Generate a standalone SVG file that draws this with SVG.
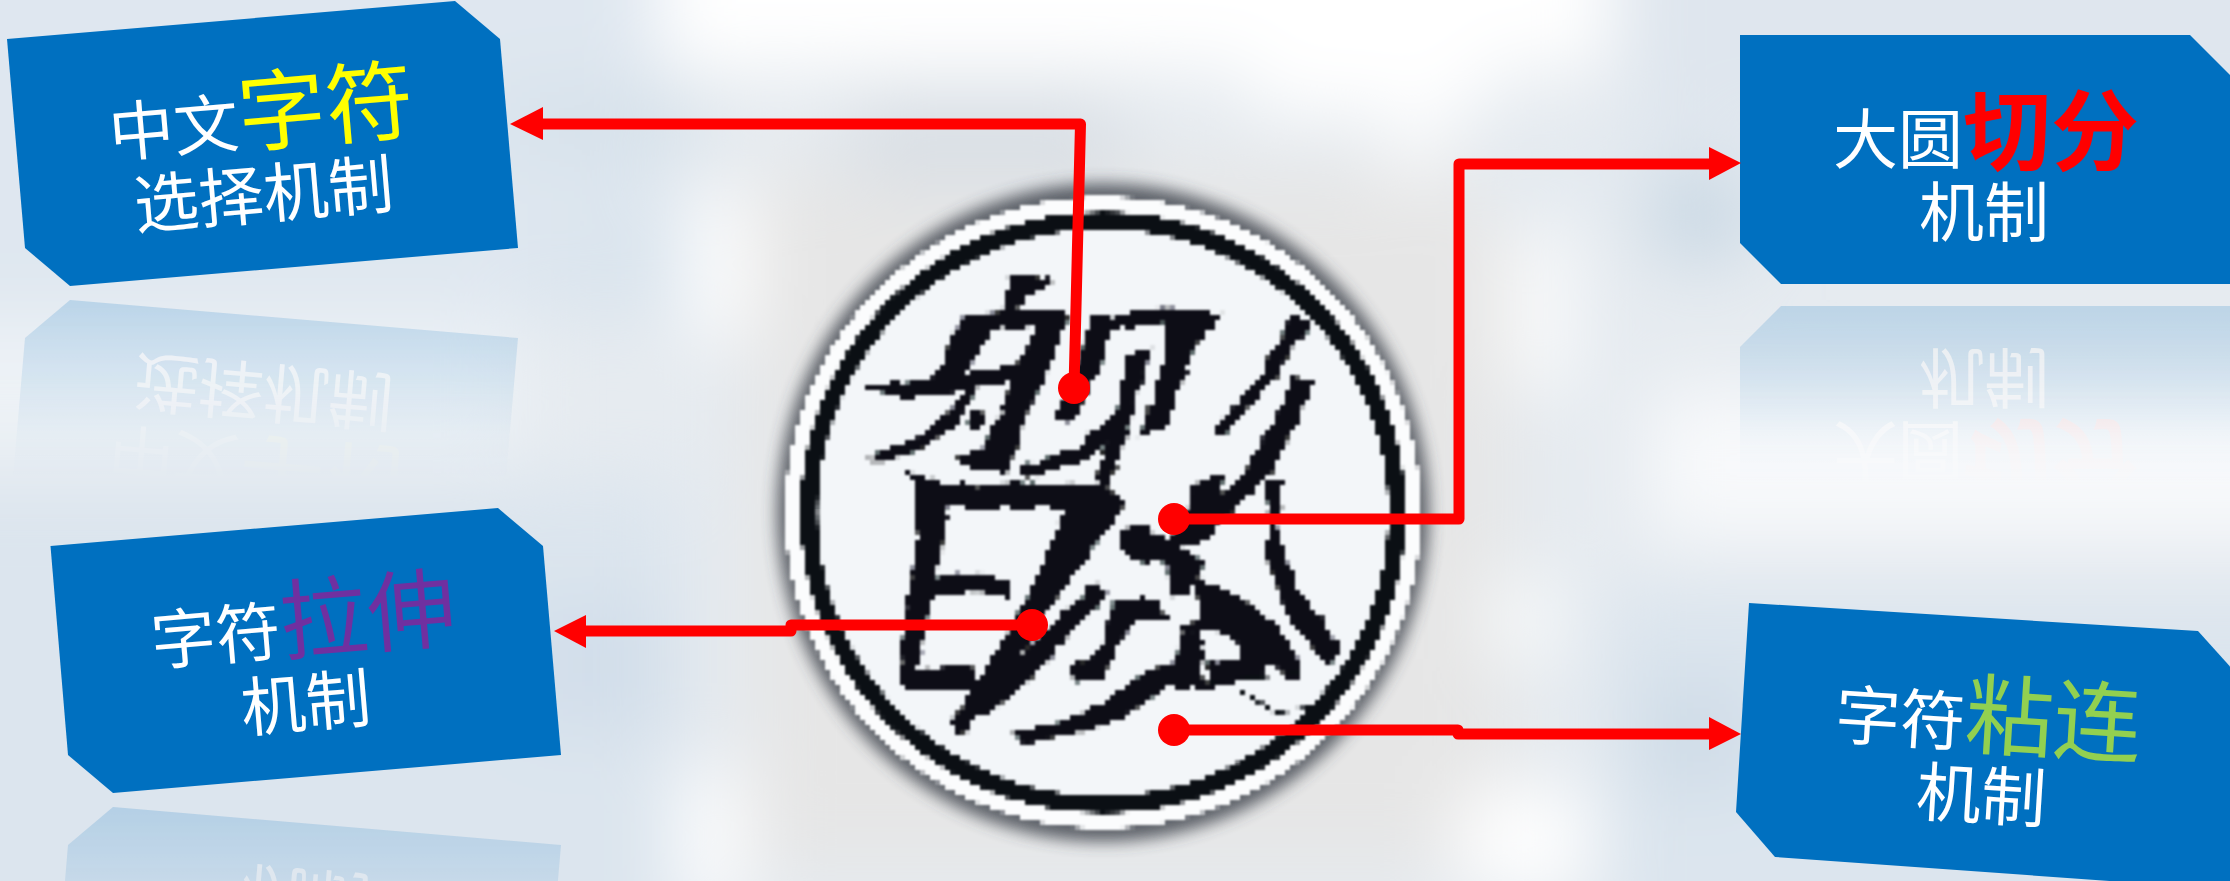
<svg xmlns="http://www.w3.org/2000/svg" xmlns:xlink="http://www.w3.org/1999/xlink" width="2230" height="881" viewBox="0 0 2230 881">
<style>
.box{fill:#0070C0}
.t{font-family:"Noto Sans CJK SC","Noto Sans",sans-serif;fill:#fff;font-size:65px;font-weight:400}
.big{font-size:88px}
.conn{fill:none;stroke:#f00;stroke-width:11;stroke-linejoin:round;stroke-linecap:round}
.dot,.head{fill:#f00;stroke:none}
.ink{fill:#0b0f14;stroke:#0b0f14;stroke-width:9;stroke-linejoin:round}
.thin{fill:none;stroke:#0b0f14;stroke-linecap:round;stroke-linejoin:round}
</style>
<defs>
<filter id="b60" filterUnits="userSpaceOnUse" x="-200" y="-200" width="2630" height="1281"><feGaussianBlur stdDeviation="36"/></filter>
<filter id="b12" x="-20%" y="-20%" width="140%" height="140%"><feGaussianBlur stdDeviation="8"/></filter>
<filter id="rough" x="-5%" y="-5%" width="110%" height="110%"><feTurbulence type="fractalNoise" baseFrequency=".035" numOctaves="2" seed="4"/><feDisplacementMap in="SourceGraphic" scale="22" xChannelSelector="R" yChannelSelector="G"/></filter>
<filter id="pix" filterUnits="userSpaceOnUse" x="775" y="185" width="660" height="660" color-interpolation-filters="sRGB">
<feFlood x="777" y="187" width="1" height="1" flood-color="#000"/>
<feComposite x="775" y="185" width="5" height="5"/>
<feTile x="775" y="185" width="660" height="660" result="a"/>
<feComposite in="SourceGraphic" in2="a" operator="in"/>
<feMorphology operator="dilate" radius="2"/>
<feGaussianBlur stdDeviation="1"/>
</filter>
<linearGradient id="g1" gradientUnits="userSpaceOnUse" x1="0" y1="300" x2="0" y2="480"><stop offset="0" stop-color="#fff" stop-opacity=".18"/><stop offset=".45" stop-color="#fff" stop-opacity=".09"/><stop offset=".75" stop-color="#fff" stop-opacity=".02"/><stop offset="1" stop-color="#fff" stop-opacity="0"/></linearGradient>
<linearGradient id="g2" gradientUnits="userSpaceOnUse" x1="0" y1="807" x2="0" y2="987"><stop offset="0" stop-color="#fff" stop-opacity=".18"/><stop offset=".45" stop-color="#fff" stop-opacity=".09"/><stop offset=".75" stop-color="#fff" stop-opacity=".02"/><stop offset="1" stop-color="#fff" stop-opacity="0"/></linearGradient>
<linearGradient id="g3" gradientUnits="userSpaceOnUse" x1="0" y1="305" x2="0" y2="485"><stop offset="0" stop-color="#fff" stop-opacity=".18"/><stop offset=".45" stop-color="#fff" stop-opacity=".09"/><stop offset=".75" stop-color="#fff" stop-opacity=".02"/><stop offset="1" stop-color="#fff" stop-opacity="0"/></linearGradient>
<mask id="m1" maskUnits="userSpaceOnUse" x="0" y="0" width="2230" height="881"><rect y="300" width="700" height="180" fill="url(#g1)"/></mask>
<mask id="m2" maskUnits="userSpaceOnUse" x="0" y="0" width="2230" height="881"><rect y="800" width="700" height="81" fill="url(#g2)"/></mask>
<mask id="m3" maskUnits="userSpaceOnUse" x="0" y="0" width="2230" height="881"><rect x="1600" y="300" width="630" height="185" fill="url(#g3)"/></mask>
</defs>

<g id="background">
<rect width="2230" height="881" fill="#e6ebf0"/>
<g filter="url(#b60)">
<rect x="-100" y="-100" width="760" height="420" fill="#dfe7f0"/>
<rect x="-100" y="320" width="620" height="140" fill="#edf2f6"/>
<rect x="-100" y="480" width="780" height="500" fill="#dce5ee"/>
<rect x="500" y="90" width="200" height="70" fill="#d6e1ea"/>
<rect x="540" y="200" width="170" height="120" fill="#dbe5ee"/>
<rect x="520" y="600" width="150" height="130" fill="#d2deea"/>
<rect x="660" y="-100" width="950" height="170" fill="#ffffff"/>
<rect x="1250" y="-60" width="240" height="175" fill="#ffffff"/>
<rect x="750" y="170" width="760" height="700" fill="#e6e6e6"/>
<rect x="850" y="95" width="270" height="90" fill="#d9dfe5"/>
<rect x="1480" y="140" width="260" height="80" fill="#e4eaf0"/>
<rect x="690" y="190" width="60" height="150" fill="#ffffff"/>
<rect x="680" y="770" width="60" height="140" fill="#ffffff"/>
<rect x="1395" y="90" width="40" height="90" fill="#ffffff"/>
<rect x="1510" y="230" width="60" height="160" fill="#fbfcfd"/>
<rect x="1490" y="580" width="70" height="80" fill="#f8fafb"/>
<rect x="1460" y="790" width="130" height="100" fill="#ffffff"/>
<rect x="1620" y="-100" width="720" height="240" fill="#dfe6ee"/>
<rect x="1650" y="170" width="100" height="90" fill="#c9d8e4"/>
<rect x="1650" y="390" width="700" height="150" fill="#f8f9fb"/>
<rect x="1600" y="590" width="740" height="400" fill="#dce5ee"/>
<rect x="1640" y="680" width="110" height="110" fill="#cfdce7"/>
</g>
</g>

<g mask="url(#m1)"><use id="reflection-1" href="#node-1" transform="matrix(1 0 0 -1 0 586)"/></g>
<g mask="url(#m2)"><use id="reflection-2" href="#node-2" transform="matrix(1 0 0 -1 0 1600)"/></g>
<g mask="url(#m3)"><use id="reflection-3" href="#node-3" transform="matrix(1 0 0 -1 0 590)"/></g>

<g id="node-1">
<polygon class="box" points="7,39 455,1 500,39 518,248 70,286 25,248"/>
<text class="t" transform="rotate(-4.85 111 157)" x="111" y="157">中文<tspan class="big" fill="#FFFF00">字符</tspan></text>
<text class="t" transform="rotate(-4.85 136 229)" x="136" y="229">选择机制</text>
</g>
<g id="node-2">
<polygon class="box" points="50.5,546 498,508 543,546 561,755 113,793 68,755"/>
<text class="t" transform="rotate(-4.85 153 665)" x="153" y="665">字符<tspan class="big" fill="#7030A0">拉伸</tspan></text>
<text class="t" transform="rotate(-4.85 243 732)" x="243" y="732">机制</text>
</g>
<g id="node-3">
<polygon class="box" points="1740,35 2190,35 2235,80 2235,284 1781,284 1740,243"/>
<text class="t" x="1833" y="163">大圆<tspan class="big" font-weight="700" fill="#FF0000">切分</tspan></text>
<text class="t" x="1919" y="236">机制</text>
</g>
<g id="node-4">
<polygon class="box" points="1749,603 2198,631 2235,672 2235,890 1775,857 1736,812"/>
<text class="t" transform="rotate(3.57 1834 738)" x="1834" y="738">字符<tspan class="big" fill="#92D050">粘连</tspan></text>
<text class="t" transform="rotate(3.57 1915 815)" x="1915" y="815">机制</text>
</g>

<g id="seal">
<ellipse cx="1103" cy="512.5" rx="326" ry="329" fill="#3a4148" filter="url(#b12)" opacity=".8"/>
<g filter="url(#pix)">
<ellipse cx="1103" cy="512.5" rx="318" ry="316" fill="#fbfcfd"/>
<ellipse cx="1103" cy="512.5" rx="294" ry="292" fill="#f3f6f9" stroke="#0b0f14" stroke-width="17"/>
<g transform="translate(740 170) scale(.4464 .4337)">
<g class="ink" filter="url(#rough)">
<polygon points="610,245 700,255 640,290 600,345 590,320"/>
<polygon points="500,340 720,325 730,350 560,365"/>
<polygon points="500,340 570,345 520,440 470,500 440,480"/>
<polygon points="290,500 400,490 530,470 620,450 620,475 450,515 370,520"/>
<polygon points="290,665 400,620 470,560 520,500 490,580 420,630 340,665"/>
<polygon points="680,330 730,335 700,430 640,560 600,690 520,690 570,600 620,470"/>
<circle cx="530" cy="575" r="15"/>
<polygon points="790,340 830,340 810,430 770,520 740,580 710,570 750,470"/>
<polygon points="830,345 960,320 960,345 840,365"/>
<polygon points="950,320 1075,335 1020,400 980,500 950,590 900,610 930,520 960,420"/>
<polygon points="870,430 920,410 880,530 860,620 820,730 800,710 840,600"/>
<polygon points="630,690 760,640 850,560 850,600 770,670 640,705"/>
<polygon points="490,660 550,650 560,685 500,680"/>
<polygon points="380,700 460,730 800,725 860,770 830,800 700,775 470,775"/>
<polygon points="395,720 465,740 450,860 420,1000 390,1160 360,1170 380,1000 400,850"/>
<polygon points="410,950 530,930 600,950 600,985 530,965 410,985"/>
<polygon points="365,1160 510,1145 540,1190 370,1195"/>
<polygon points="740,770 860,770 780,880 680,1020 620,1130 560,1230 490,1300 480,1270 540,1180 590,1090 650,980"/>
<polygon points="800,950 820,975 740,1060 650,1170 570,1240 500,1260 600,1160 700,1050"/>
<polygon points="1240,340 1275,350 1200,470 1080,610 1065,600 1160,490"/>
<polygon points="1240,480 1280,490 1240,590 1190,690 1100,790 1020,860 960,870 1000,800 1050,770 1110,730 1180,620 1220,540"/>
<polygon points="1030,720 1080,700 1060,770 1000,800"/>
<polygon points="1180,720 1210,720 1200,840 1250,970 1340,1100 1320,1140 1230,1030 1180,880 1190,800"/>
<polygon points="850,835 900,820 960,860 1020,900 1000,920 930,890 910,905 860,870"/>
<polygon points="960,890 1040,900 1000,975 970,985"/>
<polygon points="1020,940 1120,990 1200,1050 1260,1160 1230,1170 1160,1100 1060,1060 990,1060 1040,1030"/>
<polygon points="1100,1020 1170,1040 1190,1130 1150,1170 1060,1190 1050,1140 1130,1130"/>
<polygon points="1000,1060 1040,1090 1030,1150 990,1180 950,1170 985,1120"/>
<polygon points="610,1300 720,1280 830,1220 930,1150 1000,1140 1050,1190 950,1190 840,1270 720,1300 640,1320"/>
<polygon points="840,1000 930,990 950,1030 880,1040 840,1100 810,1170 750,1170 740,1140 790,1130 820,1080"/>
</g>
<path class="thin" stroke-width="7" d="M1120,1200 L1200,1250 L1280,1240 L1340,1170"/>
<path class="thin" stroke-width="6" d="M1060,1180 L1250,1160"/>
</g>
</g>
</g>

<g id="connectors">
<path class="conn" d="M1074,388 L1080.5,124 L535,124"/>
<polygon class="head" points="510,124 543,107 543,140"/>
<circle class="dot" cx="1174" cy="519" r="16"/>
<circle class="dot" cx="1074" cy="388" r="16"/>
<path class="conn" d="M1174,519 L1459,519 L1459,164 L1715,164"/>
<polygon class="head" points="1741,163 1709,147 1709,180"/>
<path class="conn" d="M1032,625 L791,625 M791,631 L580,631"/>
<polygon class="head" points="554,631 586,615 586,648"/>
<circle class="dot" cx="1032" cy="625" r="16"/>
<path class="conn" d="M1174,730 L1458,730 M1458,734 L1715,734"/>
<polygon class="head" points="1741,734 1709,717 1709,750"/>
<circle class="dot" cx="1174" cy="730" r="16"/>
</g>
</svg>
